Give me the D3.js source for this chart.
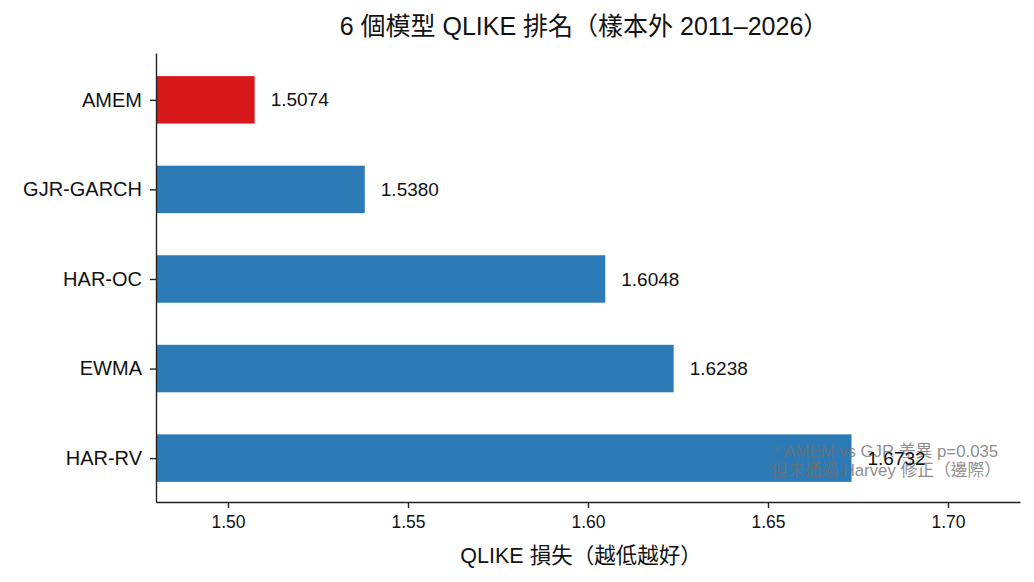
<!DOCTYPE html>
<html>
<head>
<meta charset="utf-8">
<script src="https://cdn.jsdelivr.net/npm/d3@7"></script>
<style>
  body { margin: 0; background: white; }
  text { font-family: "Liberation Sans", "Noto Sans CJK TC", sans-serif; }
</style>
</head>
<body>
<div id="container"></div>
<script>
let w = 1034;
let h = 582;

// data
let models = ["AMEM", "GJR-GARCH", "HAR-OC", "EWMA", "HAR-RV"];
let qlike = [1.5074, 1.5380, 1.6048, 1.6238, 1.6732];
let barColors = ["#d7191c", "#2c7bb6", "#2c7bb6", "#2c7bb6", "#2c7bb6"];
let xTicks = [1.50, 1.55, 1.60, 1.65, 1.70];
let titleText = "6 個模型 QLIKE 排名（樣本外 2011–2026）";
let xLabelText = "QLIKE 損失（越低越好）";
let noteLines = ["* AMEM vs GJR 差異 p=0.035", "但未通過 Harvey 修正（邊際）"];

let viz = d3.select("#container").append("svg")
    .attr("width", w)
    .attr("height", h)
    .style("background-color", "white");

let plotLeft = 156, plotRight = 1020, plotTop = 53, plotBottom = 502;

let xScale = d3.scaleLinear().domain([1.48, 1.72]).range([plotLeft, plotRight]);
// category index -> y position
let yScale = d3.scaleLinear().domain([-0.523, 4.49]).range([plotTop, plotBottom]);
let barH = yScale(0.53) - yScale(0);

// bars
viz.selectAll(".bar").data(qlike).enter().append("rect")
    .attr("class", "bar")
    .attr("x", xScale(1.48))
    .attr("y", function(d, i) { return yScale(i) - barH / 2; })
    .attr("width", function(d) { return xScale(d) - xScale(1.48); })
    .attr("height", barH)
    .attr("fill", function(d, i) { return barColors[i]; });

// note (drawn under value labels)
viz.append("text")
    .attr("x", 886)
    .attr("y", 457)
    .attr("text-anchor", "middle")
    .attr("font-size", 16.8)
    .attr("fill", "#6f6f6f")
    .attr("fill-opacity", 0.8)
    .selectAll("tspan").data(noteLines).enter().append("tspan")
    .attr("x", 886)
    .attr("dy", function(d, i) { return i == 0 ? 0 : 19; })
    .text(function(d) { return d; });

// value labels
viz.selectAll(".val").data(qlike).enter().append("text")
    .attr("class", "val")
    .attr("x", function(d) { return xScale(d) + 16; })
    .attr("y", function(d, i) { return yScale(i); })
    .attr("dy", "0.35em")
    .attr("font-size", 19)
    .attr("fill", "#111")
    .text(function(d) { return d.toFixed(4); });

// axes
let xAxis = d3.axisBottom(xScale).tickValues(xTicks).tickFormat(d3.format(".2f"))
    .tickSize(6).tickSizeOuter(0).tickPadding(8);
let xAxisGroup = viz.append("g").attr("class", "xAxis")
    .attr("transform", "translate(0, " + plotBottom + ")")
    .call(xAxis);

let yAxis = d3.axisLeft(yScale).tickValues(d3.range(models.length))
    .tickFormat(function(i) { return models[i]; })
    .tickSize(6).tickSizeOuter(0).tickPadding(8);
let yAxisGroup = viz.append("g").attr("class", "yAxis")
    .attr("transform", "translate(" + plotLeft + ", 0)")
    .call(yAxis);

viz.selectAll(".xAxis text")
    .attr("font-size", 17.5)
    .attr("fill", "#111")
    .style("font-family", "'Liberation Sans', 'Noto Sans CJK TC', sans-serif");
viz.selectAll(".yAxis text")
    .attr("font-size", 20)
    .attr("fill", "#111")
    .style("font-family", "'Liberation Sans', 'Noto Sans CJK TC', sans-serif");
viz.selectAll(".xAxis path, .yAxis path, .xAxis line, .yAxis line")
    .attr("stroke", "#222")
    .attr("stroke-width", 1.4);

// title + x label
viz.append("text")
    .attr("x", 584)
    .attr("y", 35)
    .attr("text-anchor", "middle")
    .attr("font-size", 25)
    .attr("fill", "#111")
    .text(titleText);

viz.append("text")
    .attr("x", 581)
    .attr("y", 563)
    .attr("text-anchor", "middle")
    .attr("font-size", 21.5)
    .attr("fill", "#111")
    .text(xLabelText);
</script>
</body>
</html>
